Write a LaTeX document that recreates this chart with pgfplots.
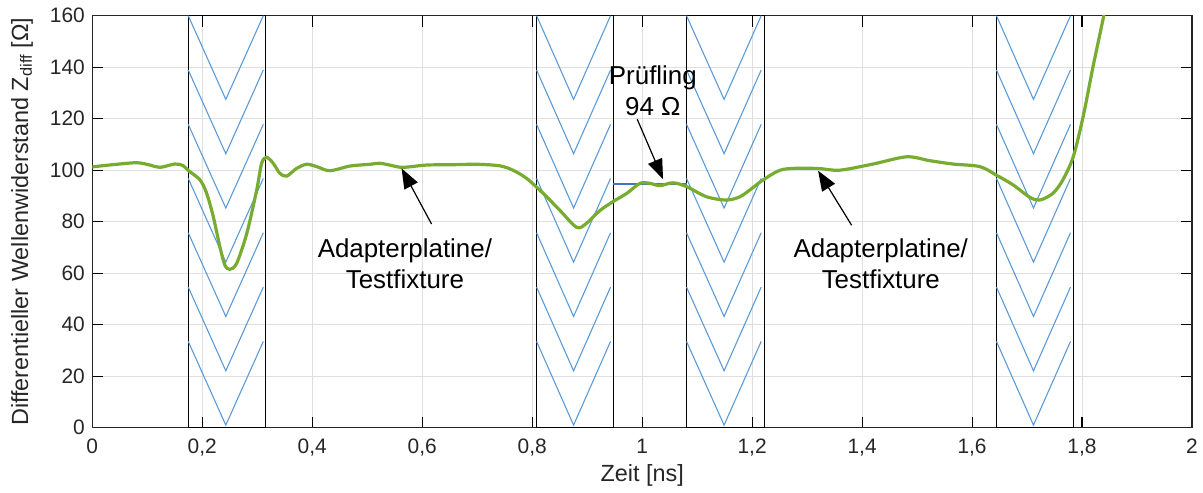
\documentclass[border=0pt]{standalone}
\usepackage{fontspec}
\setmainfont{Liberation Sans}
\usepackage{pgfplots}
\pgfplotsset{compat=1.18}
\usetikzlibrary{arrows.meta}
\definecolor{mgreen}{RGB}{119,172,48}
\definecolor{chev}{RGB}{90,155,215}
\definecolor{zline}{RGB}{68,114,196}
\definecolor{axgray}{RGB}{38,38,38}
\definecolor{gridgray}{RGB}{223,223,223}
\tikzset{anno/.style={font=\fontsize{26}{31}\selectfont, align=center},
  pfeil/.style={-{Triangle[length=20bp,width=15bp]}, line width=1.2bp}}
\begin{document}
\begin{tikzpicture}
\begin{axis}[
  name=ax,
  scale only axis,
  width=1099.7bp, height=412bp,
  xmin=0, xmax=2, ymin=0, ymax=160,
  xtick={0,0.2,0.4,0.6,0.8,1,1.2,1.4,1.6,1.8,2},
  ytick={0,20,40,60,80,100,120,140,160},
  /pgf/number format/use comma,
  /pgf/number format/assume math mode=true,
  tick label style={font=\fontsize{21}{25}\selectfont, text=axgray},
  xticklabel style={yshift=-8bp},
  yticklabel style={xshift=-4bp},
  label style={font=\fontsize{23.5}{28}\selectfont, text=axgray},
  xlabel={Zeit [ns]},
  xlabel style={at={(axis description cs:0.5,-0.115)}, anchor=center},
  ylabel={Differentieller Wellenwiderstand Z\textsubscript{diff} [Ω]},
  ylabel style={at={(axis description cs:-0.0639,0.5)}, anchor=center},
  grid=major,
  major grid style={gridgray, line width=1bp},
  axis line style={axgray, line width=1.2bp},
  tick style={black, line width=1.1bp},
  major tick length=11bp,
  tick align=inside,
  xtick pos=both, ytick pos=both,
  unbounded coords=jump,
]
% Boxen
\addplot[black, line width=1bp] coordinates {(0.1745,0) (0.1745,160) (0.3153,160) (0.3153,0) (0.1745,0)};
\addplot[black, line width=1bp] coordinates {(0.808,0) (0.808,160) (0.947,160) (0.947,0) (0.808,0)};
\addplot[black, line width=1bp] coordinates {(1.0807,0) (1.0807,160) (1.2218,160) (1.2218,0) (1.0807,0)};
\addplot[black, line width=1bp] coordinates {(1.6444,0) (1.6444,160) (1.7836,160) (1.7836,0) (1.6444,0)};
% Winkel
\addplot[chev, line width=1.1bp] coordinates {
(0.1745,160) (0.2428,127.5) (0.311,160) (0.311,nan)
(0.1745,138.9) (0.2428,106.4) (0.311,138.9) (0.311,nan)
(0.1745,117.8) (0.2428,85.3) (0.311,117.8) (0.311,nan)
(0.1745,96.8) (0.2428,64.3) (0.311,96.8) (0.311,nan)
(0.1745,75.7) (0.2428,43.2) (0.311,75.7) (0.311,nan)
(0.1745,54.6) (0.2428,22.1) (0.311,54.6) (0.311,nan)
(0.1745,33.5) (0.2428,1.0) (0.311,33.5)};
\addplot[chev, line width=1.1bp] coordinates {
(0.808,160) (0.8753,127.5) (0.9425,160) (0.9425,nan)
(0.808,138.9) (0.8753,106.4) (0.9425,138.9) (0.9425,nan)
(0.808,117.8) (0.8753,85.3) (0.9425,117.8) (0.9425,nan)
(0.808,96.8) (0.8753,64.3) (0.9425,96.8) (0.9425,nan)
(0.808,75.7) (0.8753,43.2) (0.9425,75.7) (0.9425,nan)
(0.808,54.6) (0.8753,22.1) (0.9425,54.6) (0.9425,nan)
(0.808,33.5) (0.8753,1.0) (0.9425,33.5)};
\addplot[chev, line width=1.1bp] coordinates {
(1.0807,160) (1.149,127.5) (1.2165,160) (1.2165,nan)
(1.0807,138.9) (1.149,106.4) (1.2165,138.9) (1.2165,nan)
(1.0807,117.8) (1.149,85.3) (1.2165,117.8) (1.2165,nan)
(1.0807,96.8) (1.149,64.3) (1.2165,96.8) (1.2165,nan)
(1.0807,75.7) (1.149,43.2) (1.2165,75.7) (1.2165,nan)
(1.0807,54.6) (1.149,22.1) (1.2165,54.6) (1.2165,nan)
(1.0807,33.5) (1.149,1.0) (1.2165,33.5)};
\addplot[chev, line width=1.1bp] coordinates {
(1.6444,160) (1.7117,127.5) (1.779,160) (1.779,nan)
(1.6444,138.9) (1.7117,106.4) (1.779,138.9) (1.779,nan)
(1.6444,117.8) (1.7117,85.3) (1.779,117.8) (1.779,nan)
(1.6444,96.8) (1.7117,64.3) (1.779,96.8) (1.779,nan)
(1.6444,75.7) (1.7117,43.2) (1.779,75.7) (1.779,nan)
(1.6444,54.6) (1.7117,22.1) (1.779,54.6) (1.779,nan)
(1.6444,33.5) (1.7117,1.0) (1.779,33.5)};
% Prüfling 94 Ohm
\addplot[zline, line width=1.6bp] coordinates {(0.947,94.7) (1.0807,94.7)};
% Messkurve
\addplot[mgreen, line width=3.2bp, smooth, tension=0.5] coordinates {
(0,101.3) (0.04,102.2) (0.081,102.9) (0.105,102.0) (0.123,101.1) (0.15,102.4)
(0.165,101.8) (0.175,99.8) (0.196,96.2) (0.208,91.0) (0.22,82) (0.232,70.3)
(0.241,63.2) (0.25,61.5) (0.2625,63.8) (0.281,75.5) (0.299,92.3) (0.308,102.7)
(0.317,105) (0.329,102.7) (0.341,98.8) (0.3535,97.7) (0.3716,100.7) (0.39,102.3)
(0.408,101.4) (0.432,99.8) (0.4685,101.6) (0.505,102.3) (0.523,102.7) (0.545,101.8)
(0.565,101.1) (0.608,102) (0.65,102.1) (0.699,102.3) (0.741,101.7) (0.765,100)
(0.79,96.8) (0.82,91) (0.85,84.5) (0.881,77.8) (0.899,79.4) (0.923,84.3)
(0.947,87.8) (0.972,91) (0.996,94.9) (1.014,94.9) (1.032,94) (1.056,95.1)
(1.081,93.6) (1.117,89.7) (1.153,88.4) (1.178,89.7) (1.2,93) (1.22,96.2)
(1.256,100.3) (1.317,100.7) (1.359,100) (1.42,102.4) (1.481,105.2) (1.523,103.7)
(1.565,102.4) (1.614,101.4) (1.644,98.1) (1.6745,94.3) (1.705,89.5) (1.723,88.4)
(1.747,91) (1.765,96.2) (1.784,105.2) (1.802,120.8) (1.82,140.2) (1.84,160.5)
(1.85,172)};
% Beschriftungen
\node[anno] at (axis cs:0.5685,63.8) {Adapterplatine/\\Testfixture};
\draw[pfeil] (axis cs:0.617,79.1) -- (axis cs:0.5625,100.7);
\node[anno] at (axis cs:1.434,63.8) {Adapterplatine/\\Testfixture};
\draw[pfeil] (axis cs:1.381,78.6) -- (axis cs:1.320,99.8);
\node[anno] at (axis cs:1.0195,130.9) {Prüfling\\94 Ω};
\draw[pfeil] (axis cs:0.991,119.8) -- (axis cs:1.038,96.5);
\end{axis}
\pgfresetboundingbox
\path ([xshift=-92.3bp,yshift=-65.3bp]ax.south west) rectangle ([xshift=11bp,yshift=15.7bp]ax.north east);
\end{tikzpicture}
\end{document}
